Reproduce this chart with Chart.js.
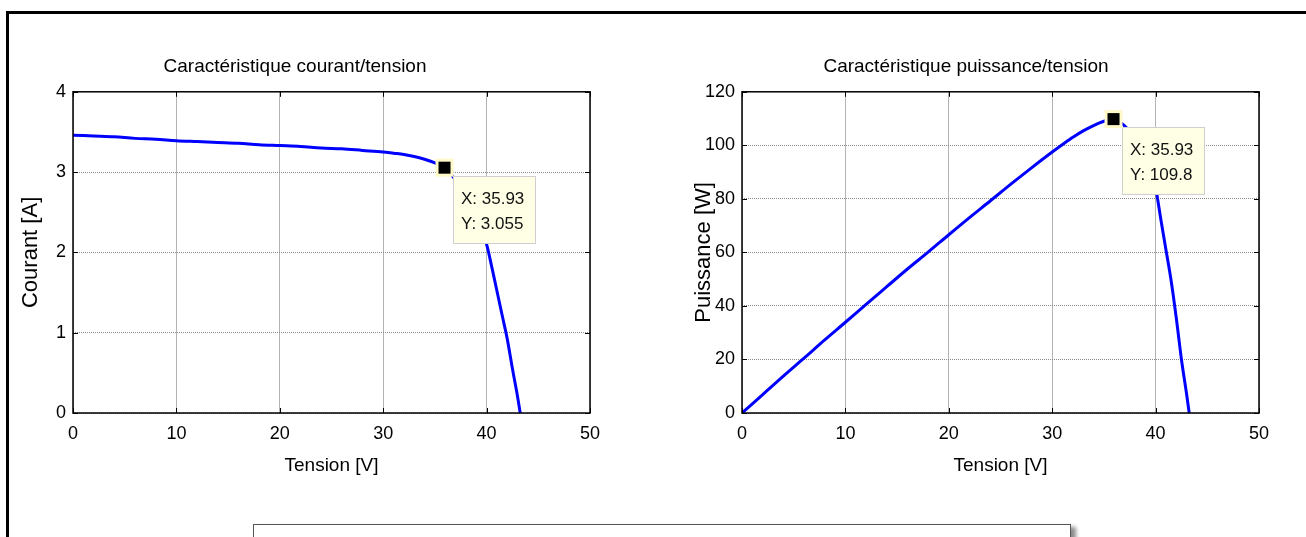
<!DOCTYPE html>
<html>
<head>
<meta charset="utf-8">
<title>Caractéristiques PV</title>
<script src="https://cdn.jsdelivr.net/npm/chart.js@4.4.1/dist/chart.umd.min.js"></script>
<style>
    body { margin: 0; background: #fff; width: 1306px; height: 537px; overflow: hidden; position: relative; }
    .frame { position: absolute; left: 6px; top: 11px; width: 1320px; height: 560px; border-left: 3px solid #000; border-top: 3px solid #000; }
    .panel { position: absolute; top: 0; }
    #ivChart { left: 0; }
    #pvChart { left: 653px; }
    .note-box { position: absolute; left: 253px; top: 524px; width: 816px; height: 40px; border: 1px solid #555; background: #fff; box-shadow: 5px 3px 4px rgba(0, 0, 0, 0.45); }
</style>
</head>
<body>
<div class="frame"></div>
<canvas id="ivChart" class="panel" width="653" height="537"></canvas>
<canvas id="pvChart" class="panel" width="653" height="537"></canvas>
<div class="note-box"></div>

<script>
// Tension [V] (shared by both curves)
const tension = [0, 2, 4, 6, 8, 10, 12, 14, 16, 18, 20, 22, 24, 26, 28, 30, 31, 32, 33, 34, 35, 35.93,
                 37, 38, 39, 40, 40.5, 41, 41.5, 42, 42.5, 43, 43.25];
// Courant [A]
const courant = [3.46, 3.45, 3.44, 3.42, 3.41, 3.39, 3.38, 3.37, 3.36, 3.34, 3.33, 3.32, 3.30, 3.29, 3.27, 3.25, 3.235, 3.22, 3.195, 3.16, 3.115, 3.055,
                 2.90, 2.70, 2.43, 2.10, 1.82, 1.52, 1.22, 0.92, 0.55, 0.20, 0];
// Puissance [W]
const puissance = [0, 6.9, 13.8, 20.5, 27.3, 33.9, 40.6, 47.2, 53.8, 60.1, 66.6, 73.0, 79.2, 85.5, 91.6, 97.5, 100.3, 103.0, 105.4, 107.4, 109.0, 109.8,
                   107.3, 102.6, 94.8, 84.0, 72.5, 61.0, 49.5, 35.5, 20.0, 7.0, 0];

const tensionTicks = [0, 10, 20, 30, 40, 50];
const courantTicks = [0, 1, 2, 3, 4];
const puissanceTicks = [0, 20, 40, 60, 80, 100, 120];

// data tip
const tipTension = 35.93;
const tipCourant = 3.055;
const tipPuissance = 109.8;

Chart.defaults.font.family = '"Liberation Sans", Arial, sans-serif';
Chart.defaults.color = '#000';

// MATLAB style box, inward ticks and data tip
const matlabAxes = {
    id: 'matlabAxes',
    afterDatasetsDraw(chart, args, opts) {
        const ctx = chart.ctx;
        const a = chart.chartArea;
        const xs = chart.scales.x;
        const ys = chart.scales.y;
        ctx.save();
        ctx.strokeStyle = '#000';
        ctx.lineWidth = 1.5;
        ctx.strokeRect(a.left, a.top, a.right - a.left, a.bottom - a.top);

        ctx.lineWidth = 1;
        ctx.beginPath();
        xs.ticks.forEach(t => {
            const px = Math.round(xs.getPixelForValue(t.value)) + 0.5;
            ctx.moveTo(px, a.bottom); ctx.lineTo(px, a.bottom - 5);
            ctx.moveTo(px, a.top); ctx.lineTo(px, a.top + 5);
        });
        ys.ticks.forEach(t => {
            const py = Math.round(ys.getPixelForValue(t.value)) + 0.5;
            ctx.moveTo(a.left, py); ctx.lineTo(a.left + 5, py);
            ctx.moveTo(a.right, py); ctx.lineTo(a.right - 5, py);
        });
        ctx.stroke();

        const tip = opts.tip;
        if (tip) {
            const mx = xs.getPixelForValue(tip.x);
            const my = ys.getPixelForValue(tip.y);
            // label box
            const bx = Math.round(mx + 8), by = Math.round(my + 8);
            ctx.fillStyle = '#ffffe6';
            ctx.fillRect(bx, by, 83, 68);
            ctx.strokeStyle = '#cfcfcf';
            ctx.strokeRect(bx + 0.5, by + 0.5, 82, 67);
            ctx.fillStyle = '#111';
            ctx.font = '17px "Liberation Sans", Arial, sans-serif';
            ctx.textBaseline = 'middle';
            ctx.textAlign = 'left';
            ctx.fillText(tip.lines[0], bx + 8, by + 23);
            ctx.fillText(tip.lines[1], bx + 8, by + 48);
            // marker
            ctx.fillStyle = '#fff8c8';
            ctx.fillRect(mx - 9, my - 9, 18, 18);
            ctx.fillStyle = '#000';
            ctx.fillRect(mx - 6, my - 6, 12, 12);
        }
        ctx.restore();
    }
};

function makeChart(el, values, yTicks, yTitle, title, padLeft, padRight, yWidth, tip) {
    const points = tension.map((v, i) => ({ x: v, y: values[i] }));
    return new Chart(el, {
        type: 'line',
        data: {
            datasets: [{
                data: points,
                borderColor: '#0000ff',
                borderWidth: 3,
                pointRadius: 0,
                cubicInterpolationMode: 'monotone',
                fill: false
            }]
        },
        options: {
            responsive: false,
            animation: false,
            events: [],
            layout: {
                padding: { left: padLeft, right: padRight, top: 0, bottom: 50 }
            },
            plugins: {
                legend: { display: false },
                tooltip: { enabled: false },
                title: {
                    display: true,
                    text: title,
                    font: { size: 19, weight: 'normal' },
                    padding: { top: 55, bottom: 14 }
                },
                matlabAxes: { tip: tip }
            },
            scales: {
                x: {
                    type: 'linear',
                    min: tensionTicks[0],
                    max: tensionTicks[tensionTicks.length - 1],
                    afterFit: scale => { scale.height = 74; },
                    ticks: { stepSize: 10, padding: 10, font: { size: 18 } },
                    grid: { color: '#b4b4b4', drawTicks: false },
                    border: { display: false },
                    title: {
                        display: true,
                        text: 'Tension [V]',
                        font: { size: 19 },
                        padding: { top: 0, bottom: 10 }
                    }
                },
                y: {
                    min: yTicks[0],
                    max: yTicks[yTicks.length - 1],
                    afterFit: scale => { scale.width = yWidth; },
                    ticks: { stepSize: yTicks[1] - yTicks[0], padding: 7, font: { size: 18 } },
                    grid: { color: '#8a8a8a', drawTicks: false },
                    border: { display: false, dash: [1, 1] },
                    title: {
                        display: true,
                        text: yTitle,
                        font: { size: 22 },
                        padding: { top: 18, bottom: 0 }
                    }
                }
            }
        },
        plugins: [matlabAxes]
    });
}

makeChart(document.getElementById('ivChart'), courant, courantTicks, 'Courant [A]',
    'Caractéristique courant/tension', 0, 63, 73,
    { x: tipTension, y: tipCourant, lines: ['X: 35.93', 'Y: 3.055'] });

makeChart(document.getElementById('pvChart'), puissance, puissanceTicks, 'Puissance [W]',
    'Caractéristique puissance/tension', 20, 47, 69,
    { x: tipTension, y: tipPuissance, lines: ['X: 35.93', 'Y: 109.8'] });
</script>
</body>
</html>
